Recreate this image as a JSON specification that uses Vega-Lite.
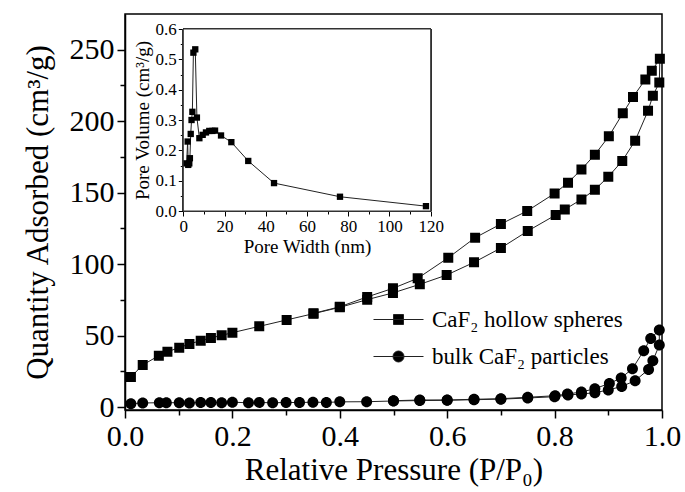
{
  "$schema": "https://vega.github.io/schema/vega-lite/v6.json",
  "width": 537,
  "height": 396,
  "autosize": {"type": "none"},
  "padding": {"left": 125, "top": 14, "right": 23, "bottom": 82},
  "background": "white",
  "config": {
    "view": {"stroke": "black", "strokeWidth": 1.5},
    "font": "Liberation Serif",
    "axis": {
      "labelFont": "Liberation Serif",
      "titleFont": "Liberation Serif",
      "labelColor": "black",
      "titleColor": "black",
      "titleFontWeight": "normal",
      "domainColor": "black",
      "tickColor": "black",
      "grid": false,
      "labelFlush": false,
      "labelOverlap": false
    },
    "legend": {
      "labelFont": "Liberation Serif",
      "orient": "none",
      "legendX": 262,
      "legendY": 294,
      "padding": 0,
      "labelFontSize": 23,
      "labelColor": "black",
      "labelLimit": 400,
      "labelOffset": 22,
      "rowPadding": 13,
      "symbolSize": 100,
      "symbolFillColor": "black",
      "symbolStrokeWidth": 1,
      "symbolOpacity": 1
    }
  },
  "datasets": {
    "main": [
      {"sample": "CaF₂ hollow spheres", "ord": 1, "p": 0.011, "q": 21.1},
      {"sample": "CaF₂ hollow spheres", "ord": 2, "p": 0.033, "q": 29.5},
      {"sample": "CaF₂ hollow spheres", "ord": 3, "p": 0.063, "q": 36.0},
      {"sample": "CaF₂ hollow spheres", "ord": 4, "p": 0.079, "q": 38.8},
      {"sample": "CaF₂ hollow spheres", "ord": 5, "p": 0.101, "q": 41.6},
      {"sample": "CaF₂ hollow spheres", "ord": 6, "p": 0.120, "q": 44.2},
      {"sample": "CaF₂ hollow spheres", "ord": 7, "p": 0.141, "q": 46.5},
      {"sample": "CaF₂ hollow spheres", "ord": 8, "p": 0.160, "q": 48.4},
      {"sample": "CaF₂ hollow spheres", "ord": 9, "p": 0.180, "q": 50.2},
      {"sample": "CaF₂ hollow spheres", "ord": 10, "p": 0.200, "q": 52.1},
      {"sample": "CaF₂ hollow spheres", "ord": 11, "p": 0.250, "q": 56.5},
      {"sample": "CaF₂ hollow spheres", "ord": 12, "p": 0.301, "q": 61.0},
      {"sample": "CaF₂ hollow spheres", "ord": 13, "p": 0.351, "q": 65.4},
      {"sample": "CaF₂ hollow spheres", "ord": 14, "p": 0.400, "q": 69.8},
      {"sample": "CaF₂ hollow spheres", "ord": 15, "p": 0.451, "q": 75.2},
      {"sample": "CaF₂ hollow spheres", "ord": 16, "p": 0.499, "q": 79.9},
      {"sample": "CaF₂ hollow spheres", "ord": 17, "p": 0.549, "q": 85.9},
      {"sample": "CaF₂ hollow spheres", "ord": 18, "p": 0.599, "q": 92.4},
      {"sample": "CaF₂ hollow spheres", "ord": 19, "p": 0.650, "q": 101.3},
      {"sample": "CaF₂ hollow spheres", "ord": 20, "p": 0.700, "q": 111.3},
      {"sample": "CaF₂ hollow spheres", "ord": 21, "p": 0.750, "q": 123.2},
      {"sample": "CaF₂ hollow spheres", "ord": 22, "p": 0.802, "q": 134.4},
      {"sample": "CaF₂ hollow spheres", "ord": 23, "p": 0.819, "q": 138.3},
      {"sample": "CaF₂ hollow spheres", "ord": 24, "p": 0.850, "q": 145.3},
      {"sample": "CaF₂ hollow spheres", "ord": 25, "p": 0.875, "q": 152.1},
      {"sample": "CaF₂ hollow spheres", "ord": 26, "p": 0.900, "q": 161.2},
      {"sample": "CaF₂ hollow spheres", "ord": 27, "p": 0.926, "q": 172.2},
      {"sample": "CaF₂ hollow spheres", "ord": 28, "p": 0.950, "q": 186.4},
      {"sample": "CaF₂ hollow spheres", "ord": 29, "p": 0.974, "q": 207.3},
      {"sample": "CaF₂ hollow spheres", "ord": 30, "p": 0.983, "q": 217.8},
      {"sample": "CaF₂ hollow spheres", "ord": 31, "p": 0.995, "q": 227.1},
      {"sample": "CaF₂ hollow spheres", "ord": 32, "p": 0.996, "q": 243.7},
      {"sample": "CaF₂ hollow spheres", "ord": 33, "p": 0.981, "q": 235.3},
      {"sample": "CaF₂ hollow spheres", "ord": 34, "p": 0.969, "q": 229.2},
      {"sample": "CaF₂ hollow spheres", "ord": 35, "p": 0.946, "q": 216.9},
      {"sample": "CaF₂ hollow spheres", "ord": 36, "p": 0.927, "q": 205.5},
      {"sample": "CaF₂ hollow spheres", "ord": 37, "p": 0.901, "q": 189.4},
      {"sample": "CaF₂ hollow spheres", "ord": 38, "p": 0.875, "q": 176.6},
      {"sample": "CaF₂ hollow spheres", "ord": 39, "p": 0.850, "q": 166.3},
      {"sample": "CaF₂ hollow spheres", "ord": 40, "p": 0.825, "q": 157.0},
      {"sample": "CaF₂ hollow spheres", "ord": 41, "p": 0.800, "q": 149.5},
      {"sample": "CaF₂ hollow spheres", "ord": 42, "p": 0.749, "q": 137.2},
      {"sample": "CaF₂ hollow spheres", "ord": 43, "p": 0.700, "q": 128.1},
      {"sample": "CaF₂ hollow spheres", "ord": 44, "p": 0.652, "q": 118.5},
      {"sample": "CaF₂ hollow spheres", "ord": 45, "p": 0.602, "q": 104.5},
      {"sample": "CaF₂ hollow spheres", "ord": 46, "p": 0.545, "q": 90.1},
      {"sample": "CaF₂ hollow spheres", "ord": 47, "p": 0.499, "q": 83.1},
      {"sample": "CaF₂ hollow spheres", "ord": 48, "p": 0.451, "q": 77.1},
      {"sample": "CaF₂ hollow spheres", "ord": 49, "p": 0.400, "q": 70.2},
      {"sample": "CaF₂ hollow spheres", "ord": 50, "p": 0.351, "q": 65.6},
      {"sample": "bulk CaF₂ particles", "ord": 1, "p": 0.011, "q": 2.4},
      {"sample": "bulk CaF₂ particles", "ord": 2, "p": 0.033, "q": 2.9},
      {"sample": "bulk CaF₂ particles", "ord": 3, "p": 0.064, "q": 3.1},
      {"sample": "bulk CaF₂ particles", "ord": 4, "p": 0.077, "q": 3.1},
      {"sample": "bulk CaF₂ particles", "ord": 5, "p": 0.101, "q": 3.1},
      {"sample": "bulk CaF₂ particles", "ord": 6, "p": 0.120, "q": 2.9},
      {"sample": "bulk CaF₂ particles", "ord": 7, "p": 0.141, "q": 3.3},
      {"sample": "bulk CaF₂ particles", "ord": 8, "p": 0.160, "q": 3.3},
      {"sample": "bulk CaF₂ particles", "ord": 9, "p": 0.180, "q": 3.1},
      {"sample": "bulk CaF₂ particles", "ord": 10, "p": 0.200, "q": 3.5},
      {"sample": "bulk CaF₂ particles", "ord": 11, "p": 0.230, "q": 3.0},
      {"sample": "bulk CaF₂ particles", "ord": 12, "p": 0.250, "q": 3.3},
      {"sample": "bulk CaF₂ particles", "ord": 13, "p": 0.275, "q": 3.0},
      {"sample": "bulk CaF₂ particles", "ord": 14, "p": 0.300, "q": 3.3},
      {"sample": "bulk CaF₂ particles", "ord": 15, "p": 0.325, "q": 3.2},
      {"sample": "bulk CaF₂ particles", "ord": 16, "p": 0.350, "q": 3.5},
      {"sample": "bulk CaF₂ particles", "ord": 17, "p": 0.375, "q": 3.3},
      {"sample": "bulk CaF₂ particles", "ord": 18, "p": 0.400, "q": 3.7},
      {"sample": "bulk CaF₂ particles", "ord": 19, "p": 0.450, "q": 3.8},
      {"sample": "bulk CaF₂ particles", "ord": 20, "p": 0.500, "q": 4.3},
      {"sample": "bulk CaF₂ particles", "ord": 21, "p": 0.549, "q": 4.6},
      {"sample": "bulk CaF₂ particles", "ord": 22, "p": 0.600, "q": 4.8},
      {"sample": "bulk CaF₂ particles", "ord": 23, "p": 0.650, "q": 5.2},
      {"sample": "bulk CaF₂ particles", "ord": 24, "p": 0.700, "q": 5.6},
      {"sample": "bulk CaF₂ particles", "ord": 25, "p": 0.750, "q": 6.4},
      {"sample": "bulk CaF₂ particles", "ord": 26, "p": 0.800, "q": 7.3},
      {"sample": "bulk CaF₂ particles", "ord": 27, "p": 0.825, "q": 8.5},
      {"sample": "bulk CaF₂ particles", "ord": 28, "p": 0.850, "q": 9.2},
      {"sample": "bulk CaF₂ particles", "ord": 29, "p": 0.875, "q": 10.1},
      {"sample": "bulk CaF₂ particles", "ord": 30, "p": 0.900, "q": 12.0},
      {"sample": "bulk CaF₂ particles", "ord": 31, "p": 0.925, "q": 14.5},
      {"sample": "bulk CaF₂ particles", "ord": 32, "p": 0.950, "q": 18.5},
      {"sample": "bulk CaF₂ particles", "ord": 33, "p": 0.975, "q": 26.4},
      {"sample": "bulk CaF₂ particles", "ord": 34, "p": 0.983, "q": 32.5},
      {"sample": "bulk CaF₂ particles", "ord": 35, "p": 0.995, "q": 43.4},
      {"sample": "bulk CaF₂ particles", "ord": 36, "p": 0.995, "q": 53.9},
      {"sample": "bulk CaF₂ particles", "ord": 37, "p": 0.979, "q": 48.1},
      {"sample": "bulk CaF₂ particles", "ord": 38, "p": 0.966, "q": 39.5},
      {"sample": "bulk CaF₂ particles", "ord": 39, "p": 0.945, "q": 26.9},
      {"sample": "bulk CaF₂ particles", "ord": 40, "p": 0.924, "q": 20.4},
      {"sample": "bulk CaF₂ particles", "ord": 41, "p": 0.902, "q": 16.6},
      {"sample": "bulk CaF₂ particles", "ord": 42, "p": 0.875, "q": 12.9},
      {"sample": "bulk CaF₂ particles", "ord": 43, "p": 0.850, "q": 10.6},
      {"sample": "bulk CaF₂ particles", "ord": 44, "p": 0.824, "q": 9.2},
      {"sample": "bulk CaF₂ particles", "ord": 45, "p": 0.801, "q": 8.0},
      {"sample": "bulk CaF₂ particles", "ord": 46, "p": 0.750, "q": 6.9},
      {"sample": "bulk CaF₂ particles", "ord": 47, "p": 0.700, "q": 5.9},
      {"sample": "bulk CaF₂ particles", "ord": 48, "p": 0.650, "q": 5.5},
      {"sample": "bulk CaF₂ particles", "ord": 49, "p": 0.600, "q": 5.0},
      {"sample": "bulk CaF₂ particles", "ord": 50, "p": 0.549, "q": 5.0},
      {"sample": "bulk CaF₂ particles", "ord": 51, "p": 0.500, "q": 4.5}
    ],
    "inset": [
      {"w": 1.6, "v": 0.157},
      {"w": 2.1, "v": 0.229},
      {"w": 2.4, "v": 0.152},
      {"w": 2.9, "v": 0.157},
      {"w": 3.2, "v": 0.174},
      {"w": 3.6, "v": 0.254},
      {"w": 4.0, "v": 0.300},
      {"w": 4.4, "v": 0.327},
      {"w": 4.9, "v": 0.522},
      {"w": 5.8, "v": 0.533},
      {"w": 6.6, "v": 0.308},
      {"w": 7.8, "v": 0.240},
      {"w": 9.4, "v": 0.251},
      {"w": 11.0, "v": 0.259},
      {"w": 12.6, "v": 0.264},
      {"w": 14.1, "v": 0.264},
      {"w": 15.4, "v": 0.265},
      {"w": 18.3, "v": 0.249},
      {"w": 23.3, "v": 0.227},
      {"w": 31.5, "v": 0.165},
      {"w": 44.0, "v": 0.092},
      {"w": 76.0, "v": 0.047},
      {"w": 117.7, "v": 0.016}
    ]
  },
  "layer": [
    {
      "data": {"name": "main"},
      "encoding": {
        "x": {
          "field": "p", "type": "quantitative",
          "scale": {"domain": [0, 1], "nice": false, "zero": false},
          "axis": {
            "title": "Relative Pressure (P/P₀)",
            "orient": "bottom",
            "values": [0, 0.1, 0.2, 0.3, 0.4, 0.5, 0.6, 0.7, 0.8, 0.9, 1.0],
            "format": ".1f",
            "labelExpr": "round(datum.value*10) % 2 === 0 ? datum.label : ''",
            "tickSize": {"condition": {"test": "round(datum.value*10) % 2 === 0", "value": 8}, "value": 5},
            "tickWidth": 1.5,
            "domainWidth": 1.5,
            "labelFontSize": 30,
            "titleFontSize": 31,
            "labelPadding": 3,
            "titlePadding": 4
          }
        },
        "y": {
          "field": "q", "type": "quantitative",
          "scale": {"domain": [-2, 275], "nice": false, "zero": false},
          "axis": {
            "title": "Quantity Adsorbed (cm³/g)",
            "orient": "left",
            "values": [0, 25, 50, 75, 100, 125, 150, 175, 200, 225, 250],
            "labelExpr": "datum.value % 50 === 0 ? datum.label : ''",
            "tickSize": {"condition": {"test": "datum.value % 50 === 0", "value": 8}, "value": 5},
            "tickWidth": 1.5,
            "domainWidth": 1.5,
            "labelFontSize": 30,
            "titleFontSize": 31,
            "labelPadding": 3,
            "titlePadding": 15
          }
        }
      },
      "layer": [
        {
          "mark": {"type": "line", "strokeWidth": 1},
          "encoding": {
            "stroke": {
              "field": "sample", "type": "nominal",
              "scale": {"domain": ["CaF₂ hollow spheres", "bulk CaF₂ particles"], "range": ["#222222", "#222222"]},
              "legend": {"title": null}
            },
            "order": {"field": "ord", "type": "quantitative"}
          }
        },
        {
          "mark": {"type": "point", "filled": true, "color": "black", "size": 100, "opacity": 1},
          "encoding": {
            "shape": {
              "field": "sample", "type": "nominal",
              "scale": {
                "domain": ["CaF₂ hollow spheres", "bulk CaF₂ particles"],
                "range": ["M-5,0H5M-1,-1H1V1H-1Z", "M-5,0H5M1.1,0A1.1,1.1,0,1,1,-1.1,0A1.1,1.1,0,1,1,1.1,0Z"]
              },
              "legend": {"title": null}
            }
          }
        }
      ]
    },
    {
      "data": {"name": "inset"},
      "encoding": {
        "x": {
          "field": "w", "type": "quantitative",
          "scale": {"domain": [0, 120], "nice": false, "zero": false, "range": [58.3, 305.7]},
          "axis": {
            "title": "Pore Width (nm)",
            "orient": "bottom",
            "offset": -199,
            "values": [0, 10, 20, 30, 40, 50, 60, 70, 80, 90, 100, 110, 120],
            "labelExpr": "datum.value % 20 === 0 ? datum.label : ''",
            "tickSize": {"condition": {"test": "datum.value % 20 === 0", "value": 5}, "value": 3},
            "tickWidth": 1,
            "domainWidth": 1,
            "domainColor": "#333333",
            "labelFontSize": 17,
            "titleFontSize": 19,
            "labelPadding": 2,
            "titlePadding": 3
          }
        },
        "y": {
          "field": "v", "type": "quantitative",
          "scale": {"domain": [0, 0.6], "nice": false, "zero": false, "range": [197, 15]},
          "axis": {
            "title": "Pore Volume (cm³/g)",
            "orient": "left",
            "offset": -58.3,
            "values": [0, 0.05, 0.1, 0.15, 0.2, 0.25, 0.3, 0.35, 0.4, 0.45, 0.5, 0.55, 0.6],
            "format": ".1f",
            "labelExpr": "round(datum.value*100) % 10 === 0 ? datum.label : ''",
            "tickSize": {"condition": {"test": "round(datum.value*100) % 10 === 0", "value": 5}, "value": 3},
            "tickWidth": 1,
            "domainWidth": 1,
            "domainColor": "#333333",
            "labelFontSize": 17,
            "titleFontSize": 19,
            "labelPadding": 2,
            "titlePadding": 3
          }
        }
      },
      "layer": [
        {
          "mark": {"type": "rect", "fill": "white", "stroke": "#333333", "strokeWidth": 1},
          "encoding": {
            "x": {"datum": 0, "type": "quantitative"},
            "x2": {"datum": 120},
            "y": {"datum": 0, "type": "quantitative"},
            "y2": {"datum": 0.6}
          }
        },
        {
          "mark": {"type": "line", "color": "#222222", "strokeWidth": 1},
          "encoding": {"order": {"field": "w", "type": "quantitative"}}
        },
        {
          "mark": {"type": "point", "shape": "square", "filled": true, "color": "black", "size": 40, "opacity": 1},
          "encoding": {}
        }
      ]
    }
  ],
  "resolve": {"scale": {"x": "independent", "y": "independent"}, "axis": {"x": "independent", "y": "independent"}}
}
